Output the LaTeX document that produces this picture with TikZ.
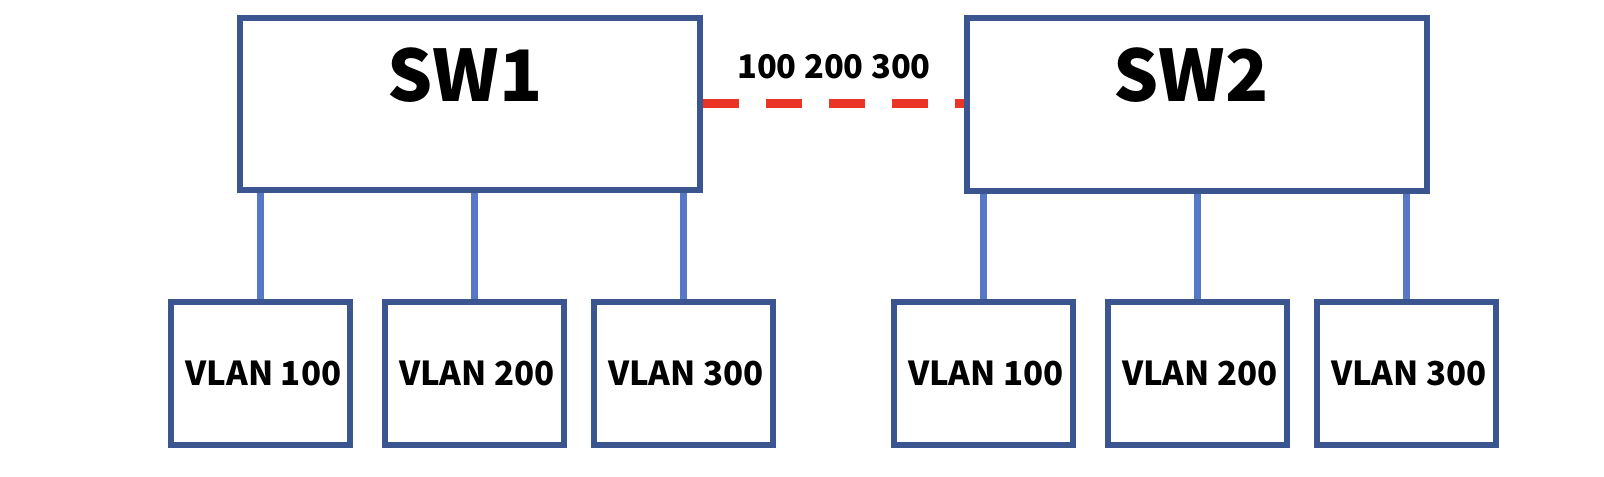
\documentclass[tikz,border=0pt]{standalone}
\usepackage{fontspec}
\setmainfont{Noto Sans CJK SC}
\usepackage{tikz}
\usetikzlibrary{positioning}
\definecolor{boxblue}{RGB}{59,85,145}
\definecolor{linkblue}{RGB}{86,120,198}
\definecolor{trunkred}{RGB}{233,52,38}
\tikzset{
    switch/.style={
           rectangle,
           draw=boxblue, line width=3pt,
           minimum width=230pt,
           minimum height=86pt,
           inner sep=0pt,
           },
    vlanbox/.style={
           rectangle,
           draw=boxblue, line width=3pt,
           minimum width=89.5pt,
           minimum height=71.5pt,
           inner sep=0pt,
           font=\fontsize{16.5}{20}\selectfont\bfseries,
           execute at begin node=\hspace*{3pt},
           text centered,
           },
    swname/.style={font=\fontsize{35.5}{42}\selectfont\bfseries, anchor=base, inner sep=0pt},
    access/.style={draw=linkblue, line width=3.5pt},
    trunk/.style={draw=trunkred, line width=4.5pt, dash pattern=on 18pt off 13.5pt},
}
\begin{document}
\begin{tikzpicture}[x=0.5pt,y=-0.5pt]
 \useasboundingbox (0,0) rectangle (1604,476);

 % the two switches
 \node[switch] (SW1) at (470,104) {};
 \node[switch] (SW2) at (1196.5,104.5) {};
 \node[swname] (SW1name) at (465,102) {SW1};
 \node[swname] (SW2name) at (1191,102) {SW2};

 % VLAN boxes below SW1
 \node[vlanbox] (V1a) at (260.5,373.5) {VLAN 100};
 \node[vlanbox] (V1b) at (474,373.5) {VLAN 200};
 \node[vlanbox] (V1c) at (683,373.5) {VLAN 300};

 % VLAN boxes below SW2
 \node[vlanbox] (V2a) at (983,373.5) {VLAN 100};
 \node[vlanbox] (V2b) at (1197,373.5) {VLAN 200};
 \node[vlanbox] (V2c) at (1406,373.5) {VLAN 300};

 % trunk between the switches
 \draw[trunk] (SW1.east) -- (SW1.east -| SW2.west);
 \node[font=\fontsize{16.3}{20}\selectfont\bfseries, anchor=base, inner sep=0pt] (tag) at (834,79) {100 200 300};

 % access links
 \foreach \v in {V1a,V1b,V1c}
   \draw[access] (\v.north) -- (\v.north |- SW1.south);
 \foreach \v in {V2a,V2b,V2c}
   \draw[access] (\v.north) -- (\v.north |- SW2.south);
\end{tikzpicture}
\end{document}
